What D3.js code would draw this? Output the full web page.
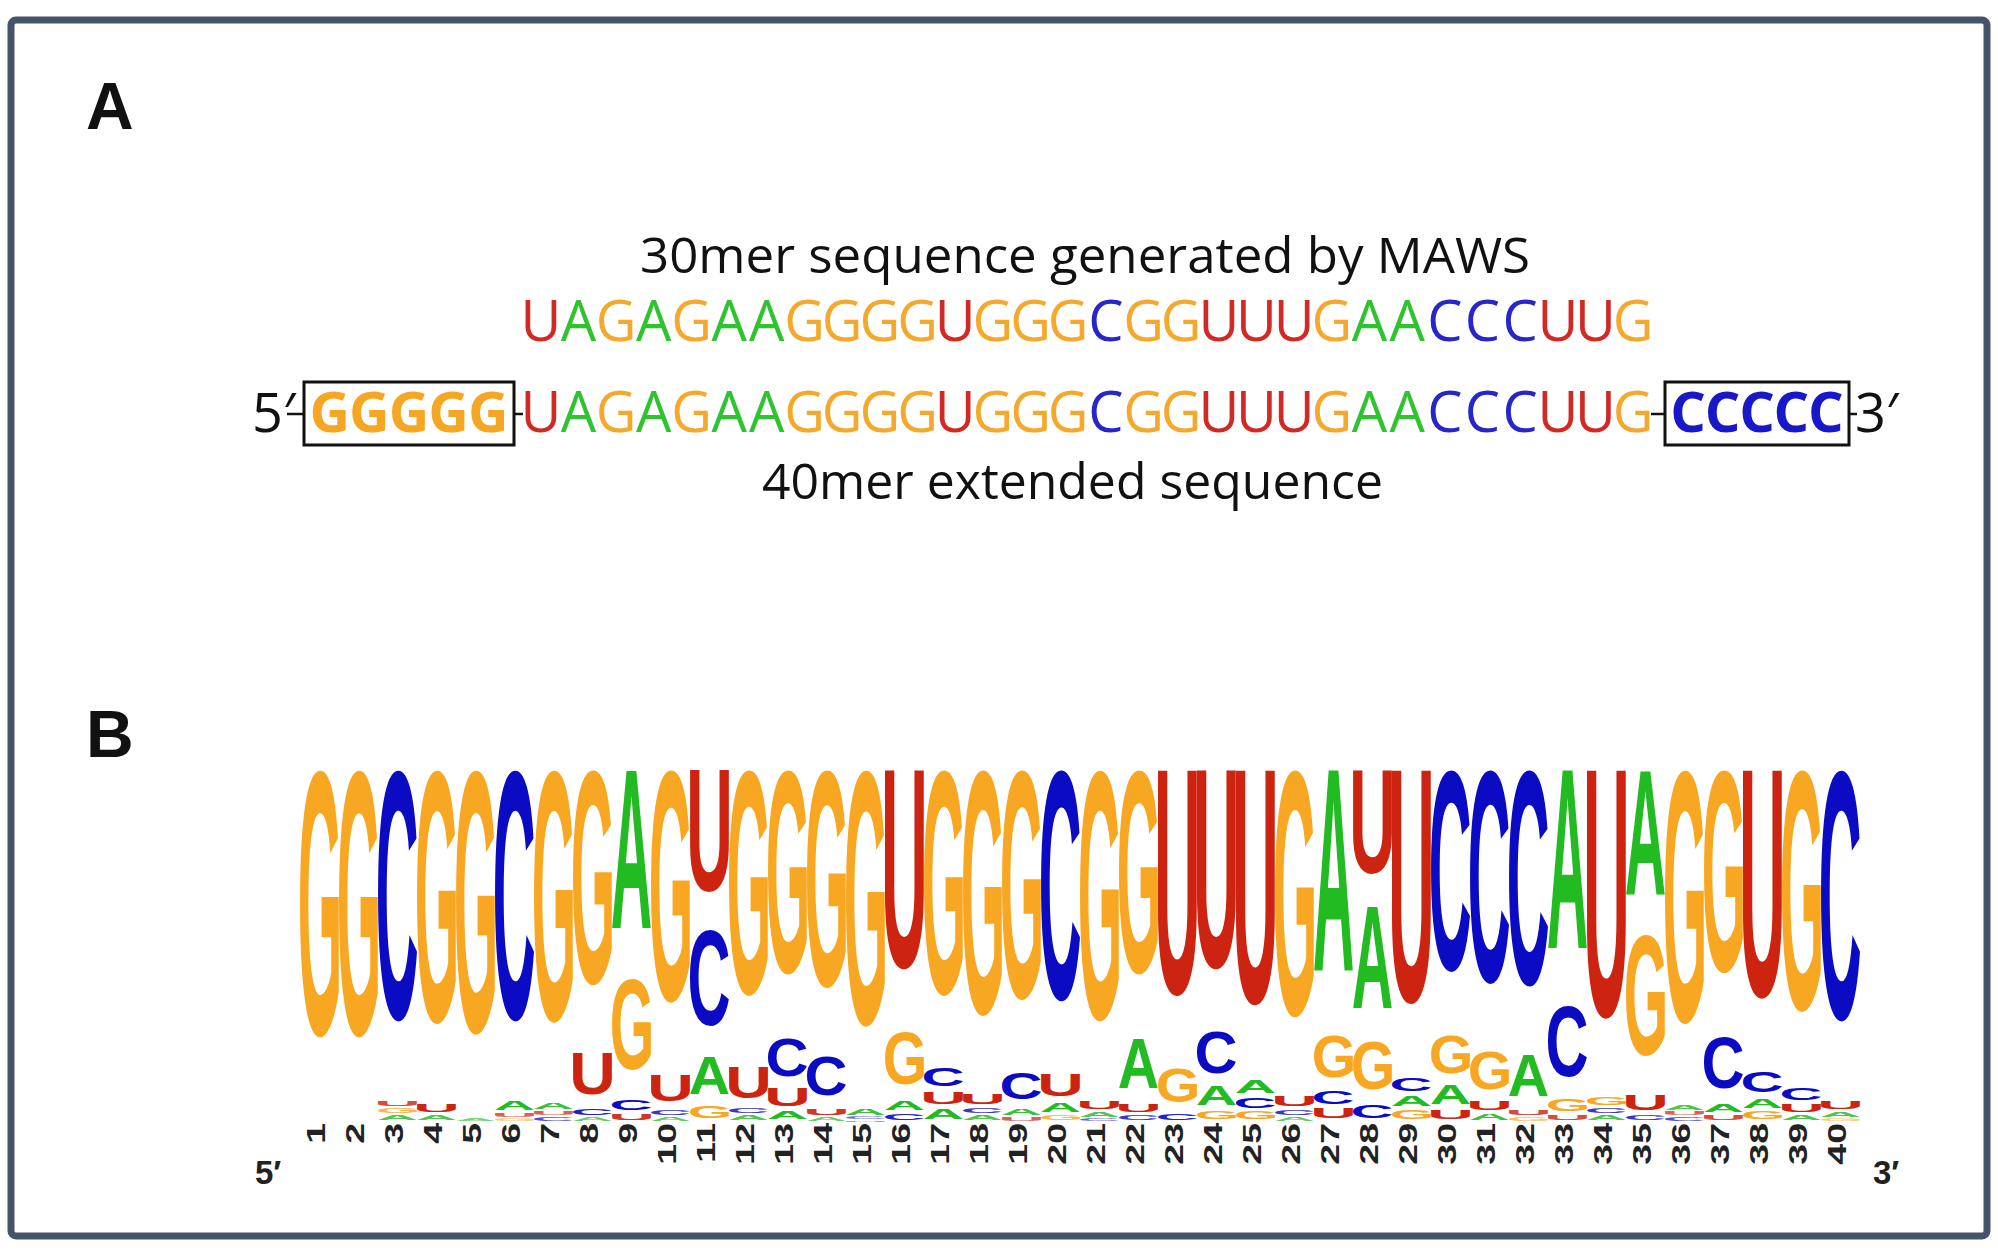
<!DOCTYPE html>
<html>
<head>
<meta charset="utf-8">
<script src="https://cdn.jsdelivr.net/npm/d3@7"></script>
<style>
  body { margin: 0; background: #fff; }
</style>
</head>
<body>
<svg id="fig"></svg>
<script>
var width = 1998,
  height = 1253;

// ---- panel A data ----
var mawsSeq = "UAGAGAAGGGGUGGGCGGUUUGAACCCUUG".split("");
var primer5 = "GGGGG".split("");
var primer3 = "CCCCC".split("");

// ---- panel B data: base frequency per position ----
var posLabels = ["1","2","3","4","5","6","7","8","9","10",
  "11","12","13","14","15","16","17","18","19","20",
  "21","22","23","24","25","26","27","28","29","30",
  "31","32","33","34","35","36","37","38","39","40"];
var bases = ["A", "C", "G", "U"];
var freqA = [0, 0, 0.02, 0.02, 0.01, 0.035, 0.025, 0.015, 0.595, 0.015,
  0.14, 0.02, 0.03, 0.015, 0.025, 0.035, 0.04, 0.02, 0.025, 0.035,
  0.02, 0.185, 0, 0.07, 0.05, 0.015, 0.755, 0.38, 0.04, 0.07,
  0.025, 0.155, 0.67, 0.02, 0.465, 0.02, 0.03, 0.035, 0.02, 0.02];
var freqC = [0, 0, 0.94, 0, 0, 0.94, 0.015, 0.025, 0.04, 0.02,
  0.36, 0.02, 0.14, 0.145, 0.01, 0.025, 0.07, 0.02, 0.10, 0.865,
  0.01, 0.02, 0.025, 0.155, 0.04, 0.02, 0.05, 0.05, 0.05, 0.755,
  0.80, 0.81, 0.265, 0.02, 0.02, 0.015, 0.19, 0.08, 0.045, 0.94];
var freqG = [1.0, 1.0, 0.02, 0.95, 0.99, 0.01, 0.945, 0.805, 0.34, 0.87,
  0.045, 0.845, 0.765, 0.815, 0.96, 0.195, 0.845, 0.92, 0.86, 0.02,
  0.94, 0.765, 0.13, 0.03, 0.03, 0.925, 0.155, 0.18, 0.035, 0.14,
  0.14, 0.015, 0.045, 0.03, 0.455, 0.95, 0.76, 0.03, 0.905, 0.01];
var freqU = [0, 0, 0.02, 0.03, 0, 0.015, 0.015, 0.155, 0.025, 0.095,
  0.455, 0.115, 0.065, 0.025, 0.005, 0.745, 0.045, 0.04, 0.015, 0.08,
  0.03, 0.03, 0.845, 0.745, 0.88, 0.04, 0.04, 0.39, 0.875, 0.035,
  0.035, 0.02, 0.02, 0.93, 0.06, 0.015, 0.02, 0.855, 0.03, 0.03];

var seqColor = { A: "#2fc42f", C: "#2626c9", G: "#f4a92c", U: "#d12a25" };
var logoColor = { A: "#22bb22", C: "#0b0bc4", G: "#f7a722", U: "#cc2410" };

var svg = d3
  .select("#fig")
  .attr("width", width)
  .attr("height", height);

svg.append("rect").attr("width", width).attr("height", height).attr("fill", "#fff");

// frame
svg
  .append("rect")
  .attr("x", 11)
  .attr("y", 20)
  .attr("width", 1976)
  .attr("height", 1216)
  .attr("rx", 5)
  .attr("fill", "#fff")
  .attr("stroke", "#44546a")
  .attr("stroke-width", 7);

// panel letters
svg.selectAll(".panel-label")
  .data([{ t: "A", y: 129 }, { t: "B", y: 757 }])
  .enter()
  .append("text")
  .attr("class", "panel-label")
  .attr("x", 86)
  .attr("y", d => d.y)
  .attr("font-family", "'Liberation Sans', Arial, sans-serif")
  .attr("font-weight", "bold")
  .attr("font-size", 66)
  .attr("fill", "#111")
  .text(d => d.t);

// ================= panel A =================
var seqFont = "'Open Sans', 'Noto Sans', sans-serif";
var xSeq = d3.scaleBand().domain(d3.range(mawsSeq.length)).range([522, 1652]);

svg
  .append("text")
  .attr("x", 640)
  .attr("y", 273)
  .attr("font-family", seqFont)
  .attr("font-size", 49)
  .attr("textLength", 890)
  .attr("lengthAdjust", "spacingAndGlyphs")
  .attr("fill", "#111")
  .text("30mer sequence generated by MAWS");

function seqRow(baseline) {
  svg
    .append("g")
    .selectAll("text")
    .data(mawsSeq)
    .enter()
    .append("text")
    .attr("x", (d, i) => xSeq(i) + xSeq.bandwidth() / 2)
    .attr("y", baseline)
    .attr("text-anchor", "middle")
    .attr("font-family", seqFont)
    .attr("font-size", 56)
    .attr("fill", d => seqColor[d])
    .text(d => d);
}
seqRow(341);
seqRow(432);

// boxed primers
function primerBox(letters, x0, x1) {
  var xp = d3.scaleBand().domain(d3.range(letters.length)).range([x0 + 6, x1 - 6]);
  svg
    .append("rect")
    .attr("x", x0)
    .attr("y", 382)
    .attr("width", x1 - x0)
    .attr("height", 63)
    .attr("fill", "none")
    .attr("stroke", "#111")
    .attr("stroke-width", 3);
  svg
    .append("g")
    .selectAll("text")
    .data(letters)
    .enter()
    .append("text")
    .attr("x", (d, i) => xp(i) + xp.bandwidth() / 2)
    .attr("y", 432)
    .attr("text-anchor", "middle")
    .attr("font-family", seqFont)
    .attr("font-weight", "bold")
    .attr("font-size", 56)
    .attr("fill", d => (d === "G" ? "#f5a623" : "#1818c8"))
    .text(d => d);
}
primerBox(primer5, 304, 514);
primerBox(primer3, 1665, 1849);

// dashes
svg
  .append("g")
  .selectAll("line")
  .data([[287, 304], [514, 523], [1651, 1665], [1849, 1857]])
  .enter()
  .append("line")
  .attr("x1", d => d[0])
  .attr("x2", d => d[1])
  .attr("y1", 414)
  .attr("y2", 414)
  .attr("stroke", "#111")
  .attr("stroke-width", 2.5);

svg
  .selectAll(".end-a")
  .data([{ t: "5\u2032", x: 252 }, { t: "3\u2032", x: 1855 }])
  .enter()
  .append("text")
  .attr("class", "end-a")
  .attr("x", d => d.x)
  .attr("y", 432)
  .attr("font-family", seqFont)
  .attr("font-size", 54)
  .attr("fill", "#111")
  .text(d => d.t);

svg
  .append("text")
  .attr("x", 762)
  .attr("y", 499)
  .attr("font-family", seqFont)
  .attr("font-size", 49)
  .attr("textLength", 621)
  .attr("lengthAdjust", "spacingAndGlyphs")
  .attr("fill", "#111")
  .text("40mer extended sequence");

// ================= panel B: sequence logo =================
var x = d3.scaleBand().domain(posLabels).range([300, 1860]).padding(0);
var y = d3.scaleLinear().domain([0, 1]).range([1122, 770]);
var freqs = { A: freqA, C: freqC, G: freqG, U: freqU };

var stacks = posLabels.map(function(p, i) {
  var col = bases
    .map(b => ({ base: b, p: freqs[b][i], pos: p }))
    .filter(d => d.p > 0)
    .sort((a, b) => a.p - b.p);
  var cum = 0;
  col.forEach(function(d) {
    d.y0 = cum;
    cum += d.p;
    d.y1 = cum;
  });
  return col;
});

// ink metrics of the glyphs so each letter can be stretched into its cell
var logoFont = "'Liberation Sans', Arial, Helvetica, sans-serif";
var ctx = document.createElement("canvas").getContext("2d");
ctx.font = "bold 200px " + logoFont;
var ink = {};
bases.forEach(function(b) {
  var m = ctx.measureText(b);
  ink[b] = {
    l: m.actualBoundingBoxLeft,
    w: m.actualBoundingBoxLeft + m.actualBoundingBoxRight,
    a: m.actualBoundingBoxAscent,
    h: m.actualBoundingBoxAscent + m.actualBoundingBoxDescent
  };
});

var glyphFill = 0.76; // glyph covers upper part of its slot

function glyphH(d) {
  return Math.max((y(d.y0) - y(d.y1)) * glyphFill, 0.4);
}

var cols = svg
  .append("g")
  .selectAll("g")
  .data(stacks)
  .enter()
  .append("g");

cols
  .selectAll("text")
  .data(d => d)
  .enter()
  .append("text")
  .attr("font-family", logoFont)
  .attr("font-weight", "bold")
  .attr("font-size", 200)
  .attr("fill", d => logoColor[d.base])
  .attr("fill-opacity", d => Math.min(1, 0.45 + glyphH(d) / 14))
  .attr("transform", function(d) {
    var m = ink[d.base];
    var sx = x.bandwidth() / m.w;
    var sy = glyphH(d) / m.h;
    return "translate(" + x(d.pos) + "," + y(d.y1) + ") scale(" + sx + "," + sy + ") translate(" + m.l + "," + m.a + ")";
  })
  .text(d => d.base);

// position numbers, rotated and stretched along the reading direction
svg
  .append("g")
  .selectAll("g")
  .data(posLabels)
  .enter()
  .append("g")
  .attr("transform", d => "translate(" + (x(d) + x.bandwidth() / 2 - 4) + ",1123) rotate(-90)")
  .append("text")
  .attr("transform", "scale(1.5,1)")
  .attr("text-anchor", "end")
  .attr("dy", "0.36em")
  .attr("font-family", logoFont)
  .attr("font-weight", "bold")
  .attr("font-size", 25)
  .attr("fill", "#222")
  .text(d => d);

svg
  .selectAll(".end-b")
  .data([{ t: "5\u2032", x: 255 }, { t: "3\u2032", x: 1873 }])
  .enter()
  .append("text")
  .attr("class", "end-b")
  .attr("x", d => d.x)
  .attr("y", 1184)
  .attr("font-family", logoFont)
  .attr("font-weight", "bold")
  .attr("font-size", 33)
  .attr("fill", "#222")
  .text(d => d.t);
</script>
</body>
</html>
